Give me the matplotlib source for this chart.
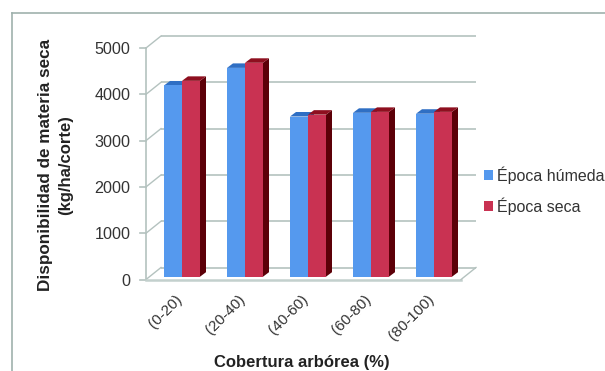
import matplotlib
matplotlib.use("Agg")
import matplotlib.pyplot as plt
from matplotlib.patches import Polygon, Patch

plt.rcParams['font.family'] = ['Liberation Sans', 'DejaVu Sans']

categories = ['(0-20)', '(20-40)', '(40-60)', '(60-80)', '(80-100)']
humeda = [4130, 4510, 3460, 3540, 3520]
seca = [4230, 4620, 3500, 3560, 3560]
y_ticks = [0, 1000, 2000, 3000, 4000, 5000]

W, H = 605, 371
DPI = 100
fig = plt.figure(figsize=(W / DPI, H / DPI), dpi=DPI, facecolor='white')

# Front plane of the pseudo-3D box, in pixels from the top-left corner
LEFT, RIGHT, Y0, Y5000 = 146, 461, 279.5, 48
ax = fig.add_axes([LEFT / W, 1 - Y0 / H, (RIGHT - LEFT) / W, (Y0 - Y5000) / H], zorder=2)
ax.set_xlim(-0.5, 4.5)
ax.set_ylim(0, 5000)
ax.patch.set_alpha(0)
for s in ax.spines.values():
    s.set_visible(False)

px_x = 5 / (RIGHT - LEFT)          # data units per pixel, horizontal
px_y = 5000 / (Y0 - Y5000)         # data units per pixel, vertical
WALL_DX, WALL_DY = 15 * px_x, 12 * px_y
GRID = '#b4c2bf'

# Walls: gridlines on the back plane, their diagonal links to the front ticks
for v in y_ticks:
    ax.plot([-0.5 + WALL_DX, 4.5 + WALL_DX], [v + WALL_DY] * 2, color=GRID, lw=1.2,
            clip_on=False, zorder=1, solid_capstyle='butt')
    ax.plot([-0.5, -0.5 + WALL_DX], [v, v + WALL_DY], color=GRID, lw=1.0,
            clip_on=False, zorder=1)
    ax.plot([-0.5 - 6 * px_x, -0.5], [v, v], color=GRID, lw=1.2, clip_on=False, zorder=1)
ax.plot([-0.5, -0.5], [0, 5000], color=GRID, lw=1.2, clip_on=False, zorder=1)
ax.plot([-0.5, 4.5], [0, 0], color='#c3d0cd', lw=1.8, clip_on=False, zorder=1)
ax.plot([4.5, 4.5 + WALL_DX], [0, WALL_DY], color=GRID, lw=1.0, clip_on=False, zorder=1)

# Extruded bars stand slightly inside the floor: front face, lit top, shaded side
BAR_W = 18 * px_x
BASE = 2.8 * px_y
DX, DY = 6 * px_x, 4.5 * px_y
SHIFT = 4.5 * px_x


def draw_series(values, offset, front, top, side, z):
    for i, v in enumerate(values):
        x0 = i + offset
        x1 = x0 + BAR_W
        y1 = v + BASE
        ax.add_patch(Polygon([(x1, BASE), (x1 + DX, BASE + DY), (x1 + DX, y1 + DY), (x1, y1)],
                             fc=side, ec='none', zorder=z))
        ax.add_patch(Polygon([(x0, y1), (x0 + DX, y1 + DY), (x1 + DX, y1 + DY), (x1, y1)],
                             fc=top, ec='none', zorder=z))
    ax.bar([i + offset for i in range(len(values))], values, width=BAR_W, bottom=BASE,
           align='edge', color=front, zorder=z + 0.1)


draw_series(humeda, SHIFT - BAR_W, '#5599ee', '#2f6fc4', '#2f6fc4', 3)
draw_series(seca, SHIFT, '#c93252', '#8e0f1f', '#5c0008', 4)

# Axis tick labels
ax.set_yticks(y_ticks)
ax.set_xticks([i - 2.5 * px_x for i in range(len(categories))])
ax.set_xticklabels(categories, rotation=45, ha='right', rotation_mode='anchor',
                   fontsize=11, color='#333333')
ax.tick_params(axis='both', length=0)
ax.tick_params(axis='y', pad=11, labelsize=11.6, labelcolor='#333333')
ax.tick_params(axis='x', pad=9)

# Axis titles
fig.text(46 / W, 1 - 165 / H, 'Disponibilidad de materia seca', rotation=90, ha='center',
         va='center', fontsize=12.3, fontweight='bold', color='#222222')
fig.text(66 / W, 1 - 165 / H, '(kg/ha/corte)', rotation=90, ha='center', va='center',
         fontsize=12, fontweight='bold', color='#222222')
fig.text(302 / W, 1 - 362 / H, 'Cobertura arbórea (%)', ha='center', va='center',
         fontsize=12, fontweight='bold', color='#222222')

# Legend
handles = [Patch(fc='#5599ee', label='Época húmeda'), Patch(fc='#c93252', label='Época seca')]
fig.legend(handles=handles, loc='center left', bbox_to_anchor=(484 / W, 1 - 190.5 / H),
           frameon=False, fontsize=11.5, handlelength=0.56, handleheight=0.56,
           handletextpad=0.25, labelspacing=0.82, borderpad=0, borderaxespad=0,
           labelcolor='#333333')

# Chart frame
frame = dict(color='#9fb1ad', lw=1.2, transform=fig.transFigure, clip_on=False)
fig.add_artist(plt.Line2D([12 / W, 12 / W], [0, 1 - 13 / H], **frame))
fig.add_artist(plt.Line2D([12 / W, 1], [1 - 13 / H, 1 - 13 / H], **frame))

fig.savefig('out.png', dpi=DPI, facecolor='white')
